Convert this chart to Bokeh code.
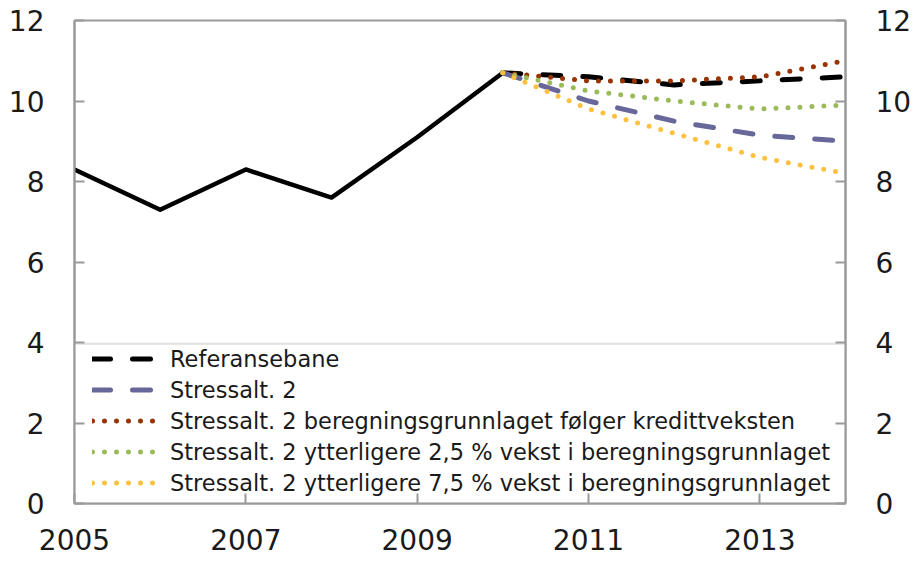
from bokeh.plotting import figure
from bokeh.models import LinearAxis, FixedTicker, Range1d, Legend, LegendItem, BoxAnnotation
from bokeh.embed import file_html
from bokeh.resources import INLINE

# ---- data ----
hist_years = [2005, 2006, 2007, 2008, 2009, 2010]
hist_values = [8.3, 7.3, 8.3, 7.6, 9.1, 10.7]

proj_years = [2010, 2011, 2012, 2013, 2014]
referansebane = [10.7, 10.6, 10.4, 10.5, 10.6]
stressalt2 = [10.7, 10.0, 9.5, 9.15, 9.0]
stressalt2_kreditt = [10.7, 10.5, 10.5, 10.6, 11.0]
stressalt2_25 = [10.7, 10.25, 10.0, 9.8, 9.9]
stressalt2_75 = [10.7, 9.8, 9.2, 8.6, 8.2]

labels = [
    "Referansebane",
    "Stressalt. 2",
    "Stressalt. 2 beregningsgrunnlaget følger kredittveksten",
    "Stressalt. 2 ytterligere 2,5 % vekst i beregningsgrunnlaget",
    "Stressalt. 2 ytterligere 7,5 % vekst i beregningsgrunnlaget",
]

x_ticks = [2005, 2007, 2009, 2011, 2013]
y_ticks = [0, 2, 4, 6, 8, 10, 12]

# ---- styling ----
GRAY = "#9a9a9a"
TXT = "#1a1a1a"
FONT = "DejaVu Sans"

p = figure(width=914, height=562, output_backend="svg", toolbar_location=None,
           x_range=Range1d(2005, 2014), y_range=Range1d(0, 12),
           min_border_left=74, min_border_right=67, min_border_top=20, min_border_bottom=59)
p.grid.visible = False
p.outline_line_color = GRAY
p.outline_line_width = 2
p.background_fill_color = "white"
p.border_fill_color = "white"

right_axis = LinearAxis()
p.add_layout(right_axis, "right")

for ax in [p.yaxis[0], right_axis]:
    ax.ticker = FixedTicker(ticks=y_ticks)
    ax.major_label_standoff = 30

p.xaxis.ticker = FixedTicker(ticks=x_ticks)

for ax in p.axis:
    ax.axis_line_color = GRAY
    ax.axis_line_width = 2
    ax.major_tick_line_color = GRAY
    ax.major_tick_line_width = 2
    ax.major_tick_in = 10
    ax.major_tick_out = 0
    ax.minor_tick_line_color = None
    ax.major_label_text_font = FONT
    ax.major_label_text_font_size = "28px"
    ax.major_label_text_color = TXT
p.xaxis.major_label_standoff = 25

# legend box
box = BoxAnnotation(left=2005, right=2014, bottom=0, top=3.97, fill_color="white", fill_alpha=1,
                    line_color=GRAY, line_width=2, level="underlay")
p.add_layout(box)

# ---- lines ----
p.line(hist_years, hist_values, line_color="black", line_width=4.5, line_join="round")
r_ref = p.line(proj_years, referansebane, line_color="black", line_width=5, line_dash="18 22",
               line_cap="round", line_join="round")
r_s2 = p.line(proj_years, stressalt2, line_color="#676799", line_width=5, line_dash="18 22",
              line_cap="round", line_join="round")
r_kr = p.line(proj_years, stressalt2_kreditt, line_color="#993300", line_width=5, line_dash="0 12",
              line_cap="round")
r_25 = p.line(proj_years, stressalt2_25, line_color="#9bbb59", line_width=5, line_dash="0 12",
              line_cap="round")
r_75 = p.line(proj_years, stressalt2_75, line_color="#ffc040", line_width=5, line_dash="0 12",
              line_cap="round")

legend = Legend(items=[LegendItem(label=l, renderers=[r]) for l, r in
                       zip(labels, [r_ref, r_s2, r_kr, r_25, r_75])],
                location=(13, 0), padding=5, margin=0, spacing=0,
                glyph_width=63, glyph_height=31, label_height=31, label_standoff=15,
                label_text_font=FONT, label_text_font_size="22.5px", label_text_color=TXT,
                background_fill_alpha=0, border_line_alpha=0)
p.add_layout(legend)

open("out.html", "w").write(file_html(p, INLINE))
